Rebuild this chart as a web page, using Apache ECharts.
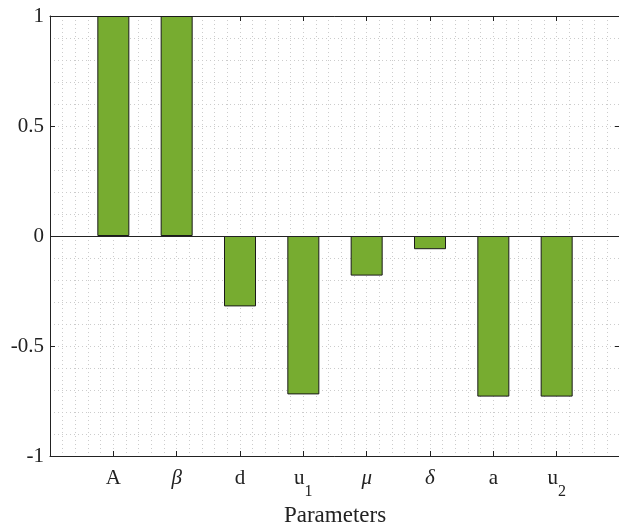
<!DOCTYPE html>
<html>
<head>
<meta charset="utf-8">
<script src="https://cdn.jsdelivr.net/npm/echarts@6/dist/echarts.min.js"></script>
<style>html,body{margin:0;padding:0;background:#fff;}#c{width:619px;height:526px;}</style>
</head>
<body>
<div id="c"></div>
<script>
var categories = ['A', 'β', 'd', 'u1', 'μ', 'δ', 'a', 'u2'];
var positions = [1, 2, 3, 4, 5, 6, 7, 8];
var values = [1, 1, -0.32, -0.72, -0.18, -0.06, -0.73, -0.73];
var yTicks = [-1, -0.5, 0, 0.5, 1];
var xName = 'Parameters';

var greek = /[α-ωΑ-Ω]/;
function fmtLabel(s) {
  if (greek.test(s)) return '{i|' + s + '}';
  var m = s.match(/^([A-Za-z]+)(\d+)$/);
  if (m) return '{n|' + m[1] + '}{sub|' + m[2] + '}';
  return '{n|' + s + '}';
}

var FONT = 'Liberation Serif';
var chart = echarts.init(document.getElementById('c'), null, {renderer: 'canvas'});
var gridLine = {show: true, lineStyle: {color: '#cccccc', type: [1, 3], width: 1}};
chart.setOption({
  animation: false,
  backgroundColor: '#ffffff',
  grid: {left: 50, top: 16, width: 570, height: 440, containLabel: false, outerBoundsMode: 'none'},
  xAxis: [{
    type: 'value', position: 'bottom', min: 0, max: 9, interval: 1,
    name: xName, nameLocation: 'middle', nameGap: 44,
    nameTextStyle: {fontFamily: FONT, fontSize: 23, color: '#222'},
    axisLine: {show: true, onZero: false, lineStyle: {color: '#222', width: 1}},
    axisTick: {show: true, inside: true, length: 5, lineStyle: {color: '#222'}},
    axisLabel: {
      margin: 12, fontFamily: FONT, fontSize: 21, color: '#222',
      formatter: function (v) {
        var idx = positions.indexOf(v);
        return idx >= 0 ? fmtLabel(categories[idx]) : '';
      },
      rich: {
        n: {fontFamily: FONT, fontSize: 21, color: '#222', lineHeight: 21, verticalAlign: 'top'},
        i: {fontFamily: FONT, fontSize: 21, fontStyle: 'italic', color: '#222', lineHeight: 21, verticalAlign: 'top'},
        sub: {fontFamily: FONT, fontSize: 16, color: '#222', lineHeight: 32, verticalAlign: 'bottom'}
      }
    },
    splitLine: gridLine,
    minorTick: {show: false, splitNumber: 5},
    minorSplitLine: gridLine
  }, {
    type: 'value', position: 'top', min: 0, max: 9, interval: 1,
    axisLine: {show: true, onZero: false, lineStyle: {color: '#222', width: 1}},
    axisTick: {show: true, inside: true, length: 5, lineStyle: {color: '#222'}},
    axisLabel: {show: false},
    splitLine: {show: false}
  }],
  yAxis: [{
    type: 'value', position: 'left', min: yTicks[0], max: yTicks[yTicks.length - 1], interval: 0.5,
    axisLine: {show: true, onZero: false, lineStyle: {color: '#222', width: 1}},
    axisTick: {show: true, inside: true, length: 5, lineStyle: {color: '#222'}},
    axisLabel: {margin: 6, fontFamily: FONT, fontSize: 21, color: '#222'},
    splitLine: gridLine,
    minorTick: {show: false, splitNumber: 5},
    minorSplitLine: gridLine
  }, {
    type: 'value', position: 'right', min: yTicks[0], max: yTicks[yTicks.length - 1], interval: 0.5,
    axisLine: {show: true, onZero: false, lineStyle: {color: '#222', width: 1}},
    axisTick: {show: true, inside: true, length: 5, lineStyle: {color: '#222'}},
    axisLabel: {show: false},
    splitLine: {show: false}
  }],
  series: [{
    type: 'bar',
    xAxisIndex: 0, yAxisIndex: 0,
    barWidth: 32,
    data: positions.map(function (p, i) { return [p, values[i]]; }),
    itemStyle: {color: '#77AC30', borderColor: '#1a1a1a', borderWidth: 1},
    markLine: {
      silent: true, symbol: 'none', label: {show: false},
      lineStyle: {color: '#222', type: 'solid', width: 1},
      data: [{yAxis: 0}]
    }
  }]
});
</script>
</body>
</html>
